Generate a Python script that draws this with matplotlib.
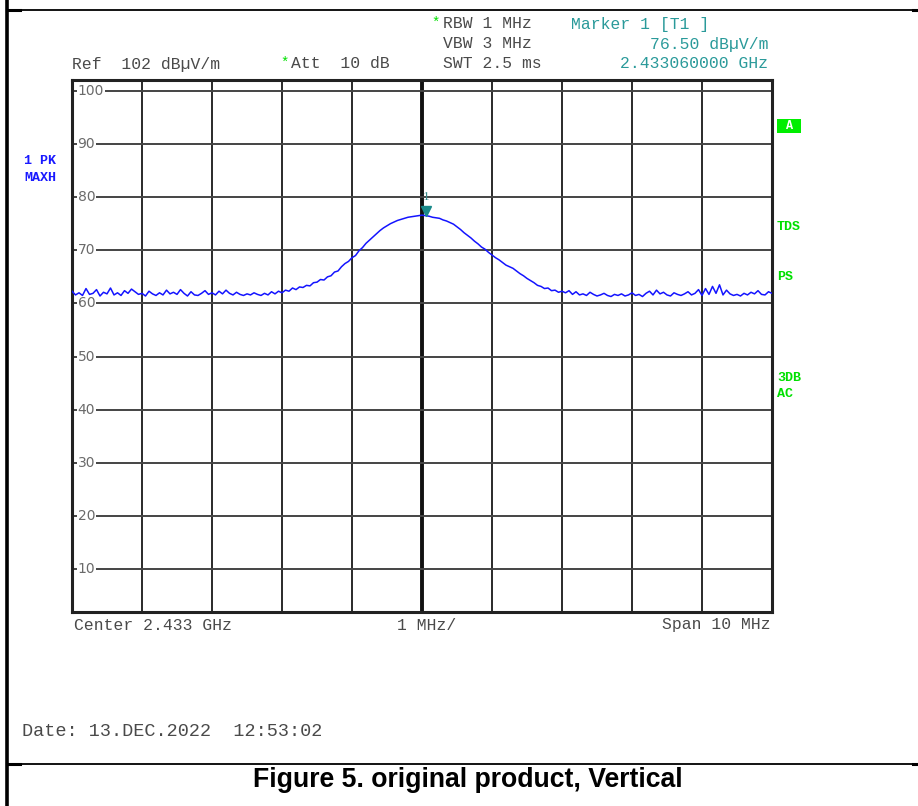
import numpy as np
import matplotlib
matplotlib.use("Agg")
import matplotlib.pyplot as plt
from matplotlib.lines import Line2D
from matplotlib.patches import Rectangle

# ---------------- data ----------------
center_ghz = 2.433
span_mhz = 10
ref_level = 102
y_ticks = [10, 20, 30, 40, 50, 60, 70, 80, 90, 100]

freq_step_mhz = 0.05
floor_left = [
    62.3, 61.6, 62.0, 61.5, 62.8, 61.7, 61.9, 62.6, 61.4, 62.1,
    61.8, 62.9, 61.6, 62.0, 61.5, 62.4, 61.9, 62.7, 62.2, 61.7,
    61.9, 61.4, 62.3, 61.8, 61.5, 62.0, 61.6, 62.5, 61.8, 62.1,
    61.7, 62.6, 61.9, 61.4, 62.2, 61.6, 61.5, 61.9, 62.4, 61.7,
    62.0, 61.6, 62.3, 61.8, 62.5, 61.9, 61.6, 62.1, 61.7, 61.5,
    61.8, 61.6, 62.0, 61.7, 61.5, 61.9, 61.6, 62.2, 61.8, 62.3,
]
rise = [
    62.0, 62.5, 62.3, 62.9, 62.6, 63.1, 63.0, 63.4, 63.3, 63.9,
    64.0, 64.5, 64.4, 65.0, 65.2, 65.9, 66.1, 66.9, 67.5, 67.9,
    68.6, 69.0, 69.9, 70.5, 71.3, 71.9, 72.5, 73.1, 73.7, 74.2,
    74.6, 75.0, 75.3, 75.6, 75.8, 76.0, 76.2, 76.3, 76.4, 76.5,
]
fall = [
    76.6, 76.5, 76.4, 76.2, 76.1, 76.0, 75.7, 75.5, 75.2, 74.9,
    74.4, 73.9, 73.3, 72.8, 72.3, 71.7, 71.2, 70.6, 70.2, 69.6,
    69.1, 68.6, 68.2, 67.7, 67.2, 66.9, 66.6, 66.1, 65.6, 65.2,
    64.7, 64.3, 63.9, 63.4, 63.2, 62.8, 62.9, 62.4, 62.5, 62.1,
    62.3,
]
floor_right = [
    62.0, 62.4, 61.7, 62.2, 61.6, 61.8, 61.5, 62.1, 61.7, 61.4,
    61.6, 61.9, 61.5, 61.3, 61.7, 61.5, 61.8, 61.4, 61.6, 62.0,
    61.5, 61.7, 61.3, 61.9, 62.3, 61.6, 62.5, 61.8, 62.1, 61.6,
    61.4, 62.0, 61.7, 61.5, 61.8, 62.2, 61.6, 61.9, 62.6, 61.5,
    62.8, 61.7, 63.2, 61.9, 63.5, 61.6, 62.5, 61.8, 61.5, 61.7,
    61.4, 61.9, 61.6, 62.1, 61.8, 62.4, 61.7, 61.6, 62.2, 61.9,
]
level = np.array(floor_left + rise + fall + floor_right)
offset_mhz = -span_mhz / 2 + freq_step_mhz * np.arange(len(level))

marker_offset_mhz = 0.06
marker_level = 76.50

# ---------------- figure ----------------
W, H = 918, 806
fig = plt.figure(figsize=(W / 100, H / 100), dpi=100)
fig.patch.set_facecolor("white")

def fx(px):
    return px / W

def fy(py):
    return 1 - py / H

mono = "Liberation Mono"
gray = "#4a4a4a"
teal = "#2a9a9a"
green = "#00e000"
blue = "#1414ff"

ax = fig.add_axes([fx(72), fy(612), fx(772) - fx(72), fy(80) - fy(612)])
ax.set_xlim(-span_mhz / 2, span_mhz / 2)
ax.set_ylim(ref_level - 100, ref_level)
ax.set_xticks([])
ax.set_yticks([])
for s in ax.spines.values():
    s.set_linewidth(2.2)
    s.set_color("#222222")

# grid
for xv in range(-4, 5):
    ax.axvline(xv, color="#2a2a2a" if xv else "#111111",
               lw=1.4 if xv else 2.8, zorder=1)
for yv in y_ticks:
    ax.axhline(yv, color="#444444", lw=1.4, zorder=1)
    ax.text(-4.92, yv, f"{yv}", fontsize=10, family="DejaVu Sans",
            color="#6a6a6a", va="center", ha="left", zorder=2,
            bbox=dict(facecolor="white", edgecolor="none", pad=0.5))

# trace
ax.plot(offset_mhz, level, color=blue, lw=1.1, zorder=3)

# marker
ax.plot([marker_offset_mhz], [marker_level + 0.9], marker="v", ms=7,
        color="#1a8a8a", zorder=4)
ax.text(marker_offset_mhz, marker_level + 2.3, "1", fontsize=9.5, color="#3a8a8a",
        family="Liberation Serif", ha="center", va="bottom", zorder=4)

# ---------------- header texts ----------------
fs = 11.8
def t(x, y, s, color=gray, ha="left", size=fs, weight="normal", family=mono):
    fig.text(fx(x), fy(y), s, color=color, ha=ha, va="center",
             fontsize=size, family=family, weight=weight)

t(431, 23, "*", color=green, size=10)
t(443, 24, "RBW 1 MHz")
t(571, 24, "Marker 1 [T1 ]", color=teal)
t(443, 44, "VBW 3 MHz")
t(768, 44, "76.50 dBµV/m", color=teal, ha="right")
t(72, 64, "Ref  102 dBµV/m")
t(280, 63, "*", color=green, size=10)
t(291, 64, "Att  10 dB")
t(443, 64, "SWT 2.5 ms")
t(768, 64, "2.433060000 GHz", color=teal, ha="right")

t(24, 161, "1 PK", color="#1a1aff", size=9.6, weight="bold")
t(24, 178, "MAXH", color="#1a1aff", size=9.6, weight="bold")

fig.patches.append(Rectangle((fx(777), fy(133)), fx(801) - fx(777), fy(119) - fy(133),
                             transform=fig.transFigure, facecolor="#00ee00",
                             edgecolor="none"))
t(789, 126, "A", color="white", size=8.5, weight="bold", ha="center")
t(777, 227, "TDS", color=green, size=9.6, weight="bold")
t(777, 277, "PS", color=green, size=9.6, weight="bold")
t(777, 378, "3DB", color=green, size=9.6, weight="bold")
t(777, 394, "AC", color=green, size=9.6, weight="bold")

t(74, 625, f"Center {center_ghz} GHz")
t(427, 625, "1 MHz/", ha="center")
t(771, 625, f"Span {span_mhz} MHz", ha="right")
t(22, 731, "Date: 13.DEC.2022  12:53:02", size=13.3)

fig.text(fx(468), fy(780), "Figure 5. original product, Vertical",
         ha="center", va="center", fontsize=19.2, weight="bold",
         family="Liberation Sans", color="black")

# ---------------- frame lines ----------------
def fl(x0, y0, x1, y1, lw):
    fig.add_artist(Line2D([fx(x0), fx(x1)], [fy(y0), fy(y1)], color="black",
                          lw=lw, transform=fig.transFigure))

fl(7, 0, 7, 806, 2.6)
fl(7, 10, 918, 10, 1.3)
fl(7, 764, 918, 764, 1.3)
fl(7, 10, 20, 10, 2.2)
fl(7, 764, 20, 764, 2.2)
fl(913, 10, 918, 10, 2.2)
fl(913, 764, 918, 764, 2.2)

fig.savefig("out.png", dpi=100, facecolor="white")
